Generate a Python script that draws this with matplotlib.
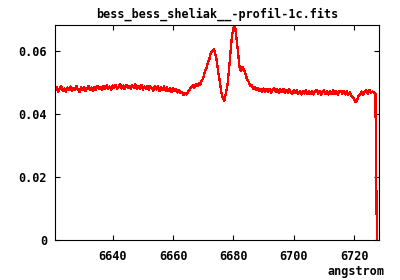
import numpy as np
import matplotlib
matplotlib.use("Agg")
import matplotlib.pyplot as plt
from matplotlib.ticker import FuncFormatter

# spectrum sampled every 0.5 angstrom from 6621.0 to 6727.5 (flux in 1e-4 units)
wave = np.arange(6621.0, 6728.0, 0.5)
flux_e4 = [
    474, 484, 470, 482, 487, 472, 480, 468, 483, 476,
    486, 471, 481, 474, 487, 477, 469, 483, 475, 485,
    472, 481, 488, 474, 483, 471, 485, 476, 489, 478,
    484, 474, 488, 477, 490, 479, 486, 475, 489, 482,
    491, 478, 487, 494, 480, 489, 477, 492, 482, 488,
    479, 491, 481, 493, 477, 488, 480, 492, 476, 486,
    478, 489, 475, 487, 479, 473, 488, 477, 486, 472,
    484, 475, 487, 473, 483, 471, 481, 469, 480, 471,
    477, 467, 475, 465, 470, 459, 466, 461, 471, 476,
    484, 490, 482, 494, 487, 497, 492, 505, 512, 532,
    543, 562, 572, 592, 598, 605, 588, 567, 528, 502,
    466, 450, 441, 467, 490, 537, 593, 647, 670, 680,
    638, 597, 548, 534, 548, 538, 527, 508, 502, 489,
    490, 480, 484, 474, 482, 471, 479, 469, 480, 470,
    478, 468, 479, 467, 477, 481, 469, 478, 466, 477,
    468, 479, 467, 476, 465, 477, 467, 464, 475, 465,
    474, 463, 473, 461, 472, 464, 475, 462, 472, 463,
    473, 461, 471, 475, 463, 472, 460, 470, 474, 462,
    471, 461, 472, 463, 474, 462, 471, 460, 470, 473,
    463, 473, 461, 471, 460, 468, 457, 453, 445, 436,
    444, 460, 461, 470, 459, 471, 474, 463, 476, 466,
    470, 467, 466, 0,
]
flux = np.array(flux_e4) * 1e-4

xticks = [6640, 6660, 6680, 6700, 6720]
yticks = [0, 0.02, 0.04, 0.06]
title = "bess_bess_sheliak__-profil-1c.fits"

plt.rcParams["font.family"] = "DejaVu Sans Mono"
plt.rcParams["font.weight"] = "bold"
plt.rcParams["font.size"] = 8.5

fig = plt.figure(figsize=(4, 2.8), dpi=100)
ax = fig.add_axes([55.3 / 400, 40 / 280, 324 / 400, 215 / 280])

ax.plot(wave, flux, color="red", lw=0.9, antialiased=False)

ax.set_xlim(6621.0, 6728.3)
ax.set_ylim(0, 0.0681)
ax.set_xticks(xticks)
ax.set_yticks(yticks)
ax.yaxis.set_major_formatter(FuncFormatter(lambda v, _: "0" if v == 0 else f"{v:.2f}"))
ax.tick_params(direction="in", length=3.6, width=0.8, top=True, right=True, color="black")
ax.tick_params(axis="x", pad=7)
ax.tick_params(axis="y", pad=6)
for s in ax.spines.values():
    s.set_linewidth(0.8)

fig.text(217 / 400, 1 - 14 / 280, title, ha="center", va="center", fontweight="bold")
fig.text(385 / 400, 1 - 272 / 280, "angstrom", ha="right", va="center", fontweight="bold")

fig.savefig("out.png", dpi=100)
